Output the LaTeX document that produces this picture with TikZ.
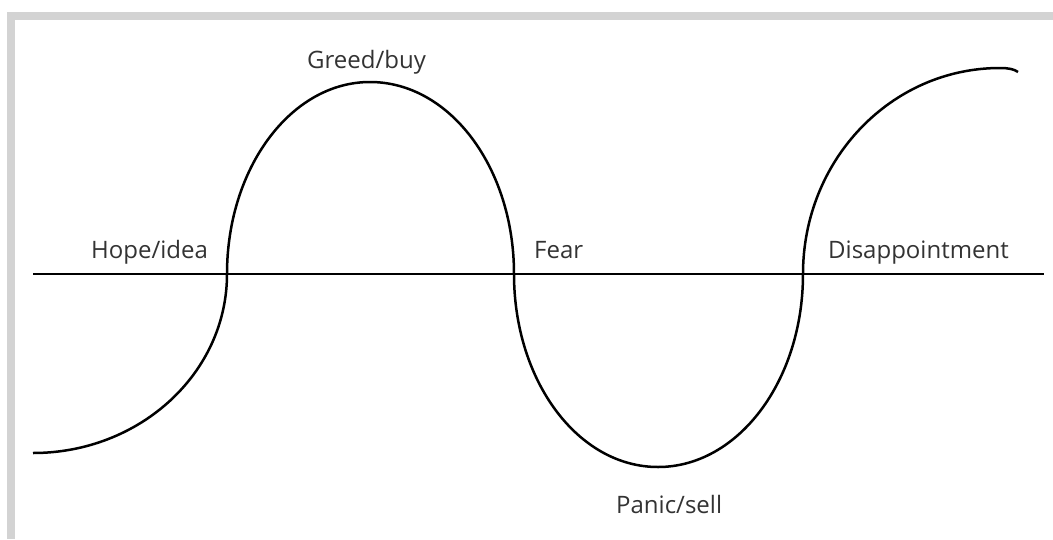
\documentclass[tikz,border=0pt]{standalone}
\usepackage{fontspec}
\setmainfont{Open Sans}
\definecolor{framegray}{HTML}{D3D3D3}
\definecolor{txt}{HTML}{333333}
\begin{document}
\begin{tikzpicture}[x=1pt,y=-1pt,
  lbl/.style={anchor=base west,inner sep=0pt,text=txt,font=\fontsize{24}{28}\selectfont},
  wave/.style={line width=2.5pt,black},
  axis/.style={line width=2.5pt,black}]
\useasboundingbox (0,0) rectangle (1053,539);
\fill[framegray] (7,12) rectangle (1053,20);
\fill[framegray] (7,12) rectangle (15,539);
\coordinate (al) at (33,274);
\coordinate (ar) at (1044,274);
\draw[axis] (al) -- (ar);
\coordinate (s) at (33,453);
\coordinate (c1) at (227,274);
\coordinate (t1) at (370,82);
\coordinate (c2) at (514,274);
\coordinate (b1) at (658,467);
\coordinate (c3) at (803,274);
\coordinate (t2) at (1000,68);
\coordinate (e) at (1018,72);
\draw[wave] (s) .. controls (140,453) and (227,373) .. (c1)
  .. controls (227,168) and (291,82) .. (t1)
  .. controls (450,82) and (514,168) .. (c2)
  .. controls (514,381) and (578,467) .. (b1)
  .. controls (738,467) and (803,381) .. (c3)
  .. controls (803,160) and (891,68) .. (t2)
  .. controls (1008,68) and (1014,69) .. (e);
\node[lbl] (hope) at (91,258) {Hope/idea};
\node[lbl] (greed) at (307,68) {Greed/buy};
\node[lbl] (fear) at (534,258) {Fear};
\node[lbl] (disap) at (828,258) {Disappointment};
\node[lbl] (panic) at (616,513) {Panic/sell};
\end{tikzpicture}
\end{document}
